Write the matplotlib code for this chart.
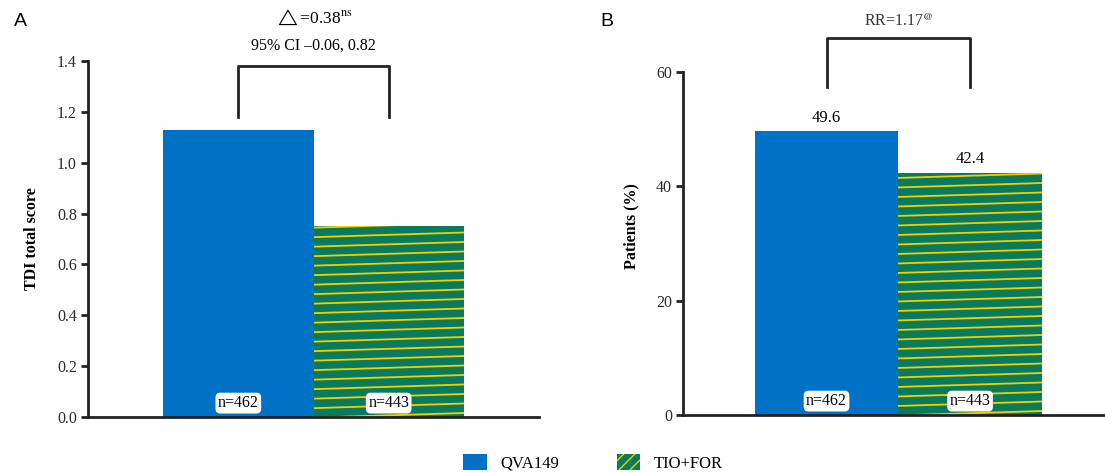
import matplotlib
matplotlib.use("Agg")
import matplotlib.pyplot as plt
import matplotlib.patches as mpatches
from matplotlib.lines import Line2D
from matplotlib.transforms import IdentityTransform
import numpy as np

plt.rcParams['font.family'] = ['Liberation Serif', 'DejaVu Serif']
plt.rcParams['mathtext.fontset'] = 'stix'

groups = ['QVA149', 'TIO+FOR']
n_labels = ['n=462', 'n=443']
tdi_values = [1.13, 0.75]
resp_values = [49.6, 42.4]
tdi_ticks = [0.0, 0.2, 0.4, 0.6, 0.8, 1.0, 1.2, 1.4]
resp_ticks = [0, 20, 40, 60]

BLUE = '#0072c6'
GREEN = '#0a7a5c'
YELLOW = '#f2d000'
DARK = '#222222'


def hatch_bar(ax, bar, spacing=9.5, slope=0.031):
    # shallow yellow stripes inside a bar, drawn in pixel space and clipped to the bar
    x0, y0 = ax.transData.transform((bar.get_x(), bar.get_y()))
    x1, y1 = ax.transData.transform((bar.get_x() + bar.get_width(), bar.get_y() + bar.get_height()))
    rise = (x1 - x0) * slope
    start = y0 - rise + 4
    for yy in np.arange(start, y1, spacing):
        ln = Line2D([x0, x1], [yy, yy + rise], color=YELLOW, lw=1.3)
        ax.add_artist(ln)
        ln.set_transform(IdentityTransform())
        ln.set_clip_path(bar)


def style_axis(ax, ymax, ticks, labels):
    for s in ['top', 'right']:
        ax.spines[s].set_visible(False)
    for s in ['left', 'bottom']:
        ax.spines[s].set_linewidth(2)
        ax.spines[s].set_color(DARK)
    ax.set_ylim(0, ymax)
    ax.spines['left'].set_bounds(0, ticks[-1])
    ax.set_yticks(ticks)
    ax.set_yticklabels(labels, fontsize=11.5, color='#2a2a2a')
    ax.tick_params(axis='y', length=5, width=2, color=DARK, pad=3)
    ax.set_xticks([])


def draw_panel(ax, values, ymax, ticks, labels, ylabel, xmax):
    x = np.arange(len(values))
    bars = ax.bar(x, values, width=1.0, color=[BLUE, GREEN], linewidth=0, zorder=2)
    ax.set_xlim(-1.0, xmax)
    style_axis(ax, ymax, ticks, labels)
    ax.set_ylabel(ylabel, fontsize=11.5, fontweight='bold', labelpad=12)
    for xi, lab in zip(x, n_labels):
        ax.annotate(lab, (xi, 0), xytext=(0, 10), textcoords='offset points',
                    ha='center', va='center', fontsize=11.5, zorder=5,
                    bbox=dict(boxstyle='round,pad=0.15,rounding_size=0.3',
                              fc='white', ec='none'))
    return bars


fig = plt.figure(figsize=(11.05, 4.72), dpi=100)
axA = fig.add_axes([88 / 1105, 1 - 417 / 472, (539 - 88) / 1105, (417 - 61) / 472])
axB = fig.add_axes([683 / 1105, 1 - 415 / 472, (1105 - 683) / 1105, (415 - 72) / 472 * 66 / 60])

barsA = draw_panel(axA, tdi_values, 1.4, tdi_ticks, [f'{t:.1f}' for t in tdi_ticks],
                   'TDI total score', 2.0)
barsB = draw_panel(axB, resp_values, 66, resp_ticks, [str(t) for t in resp_ticks],
                   'Patients (%)', 1.94)

hatch_bar(axA, barsA[1])
hatch_bar(axB, barsB[1])

# bracket A
axA.plot([0, 0, 1, 1], [1.18, 1.38, 1.38, 1.18], color=DARK, lw=2, clip_on=False)
axA.text(0.5, 1.57, r'$\triangle$=0.38$^{\rm ns}$', ha='center', va='center', fontsize=12.5)
axA.text(0.5, 1.46, '95% CI \u20130.06, 0.82', ha='center', va='center', fontsize=11.5)

# bracket B
axB.plot([0, 0, 1, 1], [57.4, 65.9, 65.9, 57.4], color=DARK, lw=2, clip_on=False)
axB.text(0.5, 68.8, r'RR=1.17$^{@}$', ha='center', va='center', fontsize=11.5,
         color='#333333')

for b, v in zip(barsB, resp_values):
    axB.annotate(f'{v:.1f}', (b.get_x() + b.get_width() / 2, v), xytext=(0, 10),
                 textcoords='offset points', ha='center', va='center', fontsize=12)

fig.text(14 / 1105, 1 - 22 / 472, 'A', fontsize=14, family='Liberation Sans', va='center')
fig.text(600 / 1105, 1 - 22 / 472, 'B', fontsize=14, family='Liberation Sans', va='center')

handles = [mpatches.Patch(facecolor=BLUE, edgecolor=BLUE, lw=0),
           mpatches.Patch(facecolor=GREEN, edgecolor=YELLOW, hatch='///', lw=0)]
fig.legend(handles, groups, loc='upper center', bbox_to_anchor=(593 / 1105, 1 - 441 / 472),
           ncol=2, frameon=False, fontsize=12, handlelength=1.4, handleheight=1.1,
           columnspacing=3.5, handletextpad=0.8, borderpad=0.3)

fig.savefig('out.png', dpi=100)
